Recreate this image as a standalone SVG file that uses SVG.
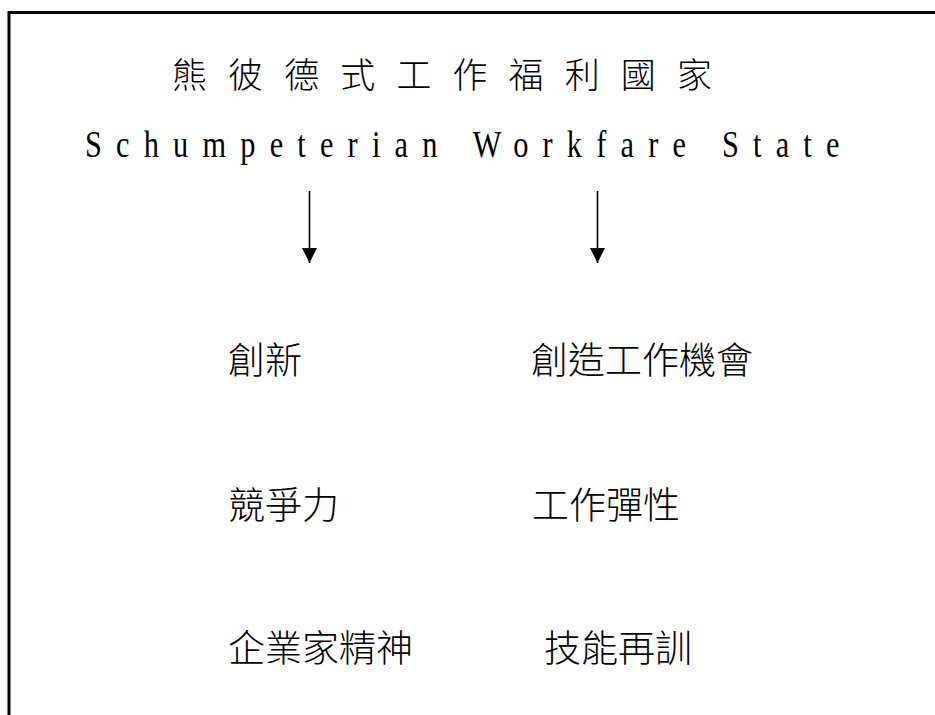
<svg xmlns="http://www.w3.org/2000/svg" width="935" height="715" viewBox="0 0 935 715">
  <style>
    .cjk { font-family: "Noto Sans CJK TC", "Noto Sans CJK SC", sans-serif; font-weight: 300; fill: #000; }
    .title { font-size: 35px; }
    .item { font-size: 37px; }
    .en { font-family: "Liberation Serif", serif; font-size: 37px; fill: #000; }
    .conn { stroke: #000; stroke-width: 1.6; fill: none; }
  </style>
  <defs>
    <marker id="ah" markerUnits="userSpaceOnUse" markerWidth="16" markerHeight="16" viewBox="0 -8 16 16" refX="15" refY="0" orient="auto">
      <path d="M0,-7.5 L15,0 L0,7.5 Z" fill="#000"/>
    </marker>
  </defs>
  <rect width="935" height="715" fill="#fff"/>
  <path d="M9,715 V12.5 H935" fill="none" stroke="#000" stroke-width="3"/>

  <g id="title-zh">
    <text class="cjk title" y="88" x="172 228.1 284.2 340.3 396.4 452.5 508.6 564.7 620.8 676.9">熊彼德式工作福利國家</text>
  </g>
  <g id="title-en">
    <text class="en" transform="translate(85,157) scale(0.82,1)" x="0" y="0" textLength="920" lengthAdjust="spacing">Schumpeterian Workfare State</text>
  </g>

  <g id="connectors">
    <line class="conn" x1="309.5" y1="191" x2="309.5" y2="263" marker-end="url(#ah)"/>
    <line class="conn" x1="597.5" y1="191" x2="597.5" y2="263" marker-end="url(#ah)"/>
  </g>

  <g id="n-innovation"><text class="cjk item" x="228" y="374">創新</text></g>
  <g id="n-jobs"><text class="cjk item" x="531" y="374">創造工作機會</text></g>
  <g id="n-competitiveness"><text class="cjk item" x="228" y="519">競爭力</text></g>
  <g id="n-flexibility"><text class="cjk item" x="532" y="519">工作彈性</text></g>
  <g id="n-entrepreneurship"><text class="cjk item" x="228" y="662">企業家精神</text></g>
  <g id="n-retraining"><text class="cjk item" x="544" y="662">技能再訓</text></g>
</svg>
